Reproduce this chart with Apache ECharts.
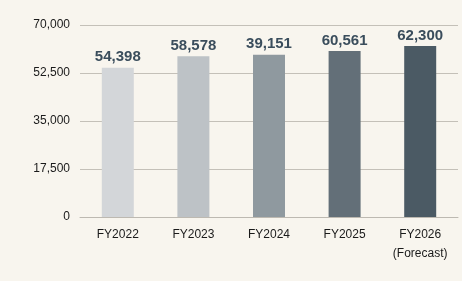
<!DOCTYPE html>
<html><head><meta charset="utf-8">
<script src="https://cdn.jsdelivr.net/npm/echarts@6/dist/echarts.min.js"></script>
<style>html,body{margin:0;padding:0;background:#f8f5ee;}#c{width:462px;height:281px;}</style>
</head><body><div id="c"></div>
<script>
const categories = ['FY2022', 'FY2023', 'FY2024', 'FY2025', 'FY2026\n(Forecast)'];
const values = [54398, 58578, 59151, 60561, 62300];
const valueLabels = ['54,398', '58,578', '39,151', '60,561', '62,300'];
const barColors = ['#d3d6d9', '#bdc2c6', '#8f999f', '#636f78', '#4b5a64'];
const yTicks = [0, 17500, 35000, 52500, 70000];

const chart = echarts.init(document.getElementById('c'));
chart.setOption({
  backgroundColor: '#f8f5ee',
  animation: false,
  grid: { left: 80, right: 4, top: 25, bottom: 64 },
  xAxis: {
    type: 'category', data: categories,
    axisTick: { show: false },
    axisLine: { lineStyle: { color: '#bdb9b1', width: 1 } },
    axisLabel: { color: '#1a1a1a', fontSize: 12, fontFamily: 'Liberation Sans, Arial, sans-serif', margin: 8, lineHeight: 19 }
  },
  yAxis: {
    type: 'value', min: 0, max: 70000, interval: 17500,
    axisLine: { show: false }, axisTick: { show: false },
    splitLine: { lineStyle: { color: '#c4c0b8', width: 1 } },
    axisLabel: { color: '#1a1a1a', fontSize: 12, fontFamily: 'Liberation Sans, Arial, sans-serif', margin: 10,
      formatter: v => yTicks.includes(v) ? v.toLocaleString('en-US') : '' }
  },
  series: [{
    type: 'bar', barWidth: 32,
    data: values.map((v, i) => ({ value: v, itemStyle: { color: barColors[i] } })),
    label: {
      show: true, position: 'top', distance: 3,
      color: '#3a4d5c', fontSize: 15, fontWeight: 'bold', fontFamily: 'Liberation Sans, Arial, sans-serif',
      formatter: p => valueLabels[p.dataIndex]
    }
  }]
});
</script></body></html>
